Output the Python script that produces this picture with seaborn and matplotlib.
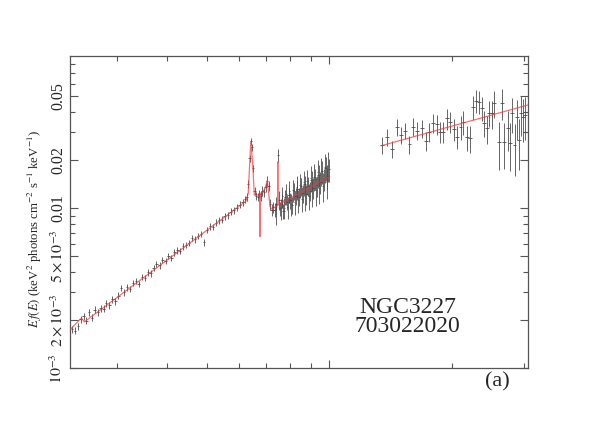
import numpy as np
import pandas as pd
import matplotlib
matplotlib.use("Agg")
import matplotlib.pyplot as plt
import seaborn as sns
from matplotlib.ticker import NullFormatter, FixedLocator

# ---------------- data (keV, keV^2 photons cm^-2 s^-1 keV^-1) ----------------
xis_energy = [2.33, 2.37, 2.41, 2.45, 2.49, 2.53, 2.57, 2.61, 2.65, 2.70,
              2.74, 2.79, 2.83, 2.88, 2.93, 2.98, 3.03, 3.08, 3.13, 3.18,
              3.24, 3.29, 3.35, 3.40, 3.46, 3.52, 3.58, 3.64, 3.70, 3.76,
              3.83, 3.89, 3.96, 4.02, 4.09, 4.16, 4.23, 4.30, 4.37, 4.45,
              4.52, 4.60, 4.68, 4.76, 4.84, 4.92, 5.00, 5.09, 5.17, 5.26,
              5.35, 5.44, 5.53, 5.63, 5.72, 5.82, 5.92, 6.02, 6.12, 6.20,
              6.26, 6.32, 6.37, 6.41, 6.45, 6.50, 6.55, 6.61, 6.67, 6.73,
              6.79, 6.85, 6.91, 6.97, 7.03, 7.09, 7.15, 7.21, 7.27,
              7.34, 7.41, 7.48, 7.56, 7.63, 7.71, 7.79, 7.86, 7.94, 8.02,
              8.10, 8.18, 8.26, 8.35, 8.43, 8.52, 8.60, 8.69, 8.78, 8.86,
              8.95, 9.04, 9.13, 9.22, 9.32, 9.41, 9.50, 9.60, 9.70, 9.79,
              9.89, 9.98]
xis_flux = [0.00176, 0.00172, 0.00183, 0.00202, 0.00212, 0.00198, 0.00225, 0.00207, 0.00232, 0.00224,
            0.00238, 0.00236, 0.00255, 0.00247, 0.00270, 0.00262, 0.00284, 0.00318, 0.00298, 0.00322,
            0.00312, 0.00340, 0.00352, 0.00335, 0.00372, 0.00366, 0.00398, 0.00392, 0.00425, 0.00448,
            0.00440, 0.00478, 0.00470, 0.00502, 0.00488, 0.00530, 0.00545, 0.00540, 0.00578, 0.00592,
            0.00610, 0.00655, 0.00640, 0.00672, 0.00690, 0.00612, 0.00735, 0.00770, 0.00765, 0.00815,
            0.00842, 0.00850, 0.00895, 0.00905, 0.00955, 0.00975, 0.01010, 0.01055, 0.01090, 0.01140,
            0.01180, 0.01420, 0.02050, 0.02620, 0.02400, 0.01780, 0.01280, 0.01200, 0.01180, 0.01230,
            0.01200, 0.01280, 0.01260, 0.01350, 0.01480, 0.01380, 0.01060, 0.00980, 0.01020,
            0.00980, 0.01070, 0.02150, 0.01000, 0.01120, 0.00960, 0.01180, 0.01090, 0.01210, 0.01120,
            0.01050, 0.01280, 0.01190, 0.01320, 0.01180, 0.01370, 0.01240, 0.01410, 0.01220, 0.01380,
            0.01290, 0.01500, 0.01340, 0.01530, 0.01390, 0.01620, 0.01460, 0.01700, 0.01520, 0.01780,
            0.01600, 0.01750]
xis_relerr = [0.05, 0.05, 0.05, 0.05, 0.05, 0.05, 0.05, 0.05, 0.05, 0.05,
              0.05, 0.05, 0.05, 0.05, 0.05, 0.05, 0.05, 0.05, 0.05, 0.05,
              0.045, 0.045, 0.045, 0.045, 0.045, 0.045, 0.045, 0.045, 0.045, 0.045,
              0.045, 0.045, 0.045, 0.045, 0.045, 0.045, 0.045, 0.045, 0.045, 0.045,
              0.045, 0.045, 0.045, 0.045, 0.045, 0.045, 0.045, 0.045, 0.045, 0.045,
              0.05, 0.05, 0.05, 0.05, 0.05, 0.05, 0.05, 0.05, 0.05, 0.05,
              0.06, 0.06, 0.05, 0.05, 0.05, 0.05, 0.06, 0.06, 0.06, 0.06,
              0.07, 0.07, 0.07, 0.07, 0.07, 0.07, 0.08, 0.08, 0.08,
              0.10, 0.10, 0.09, 0.10, 0.10, 0.11, 0.11, 0.11, 0.11, 0.12,
              0.12, 0.12, 0.12, 0.12, 0.13, 0.13, 0.13, 0.13, 0.14, 0.14,
              0.14, 0.14, 0.15, 0.15, 0.15, 0.15, 0.16, 0.16, 0.16, 0.17,
              0.17, 0.17]

# second XIS sensor (interleaved bins, 7.3-10 keV)
xis2_energy = [7.375, 7.52, 7.595, 7.67, 7.75, 7.825, 7.90, 7.98, 8.06, 8.14,
               8.22, 8.305, 8.39, 8.475, 8.56, 8.645, 8.735, 8.82, 8.905, 8.995,
               9.085, 9.175, 9.27, 9.365, 9.455, 9.55, 9.65, 9.745, 9.84, 9.935]
xis2_flux = [0.0092, 0.0113, 0.0099, 0.0119, 0.0101, 0.0123, 0.0102, 0.0128, 0.0106, 0.0130,
             0.0110, 0.0136, 0.0112, 0.0140, 0.0115, 0.0145, 0.0118, 0.0148, 0.0120, 0.0155,
             0.0125, 0.0158, 0.0130, 0.0168, 0.0133, 0.0172, 0.0138, 0.0181, 0.0145, 0.0185]
xis2_relerr = [0.14, 0.14, 0.15, 0.15, 0.15, 0.15, 0.16, 0.16, 0.16, 0.16,
               0.17, 0.17, 0.17, 0.17, 0.18, 0.18, 0.18, 0.18, 0.19, 0.19,
               0.19, 0.19, 0.20, 0.20, 0.20, 0.20, 0.21, 0.21, 0.21, 0.21]

pin_energy = [13.45, 13.88, 14.23, 14.64, 15.00, 15.37, 15.73, 16.08, 16.45, 16.87,
              17.25, 17.61, 18.00, 18.36, 18.70, 19.06, 19.43, 19.83, 20.20, 20.60,
              21.00, 21.35, 21.80, 22.20, 22.50, 22.90, 23.30, 23.70, 24.00, 24.40,
              24.70, 25.10, 25.40, 26.10, 26.50, 26.90, 27.40, 27.80, 28.10, 28.50,
              28.90, 29.20, 29.60, 29.85, 30.30]
pin_flux = [0.0249, 0.0280, 0.0235, 0.0324, 0.0287, 0.0306, 0.0252, 0.0324, 0.0306, 0.0316,
            0.0264, 0.0301, 0.0343, 0.0335, 0.0301, 0.0301, 0.0365, 0.0348, 0.0312, 0.0280,
            0.0324, 0.0348, 0.0278, 0.0274, 0.0431, 0.0470, 0.0464, 0.0422, 0.0343, 0.0316,
            0.0396, 0.0392, 0.0453, 0.0259, 0.0456, 0.0260, 0.0316, 0.0257, 0.0392, 0.0249,
            0.0371, 0.0267, 0.0392, 0.0371, 0.0383]
pin_relerr = [0.12, 0.12, 0.12, 0.12, 0.12, 0.12, 0.13, 0.13, 0.13, 0.13,
              0.14, 0.14, 0.14, 0.14, 0.15, 0.15, 0.15, 0.15, 0.16, 0.16,
              0.17, 0.17, 0.18, 0.19, 0.17, 0.16, 0.16, 0.17, 0.19, 0.20,
              0.19, 0.20, 0.19, 0.33, 0.22, 0.32, 0.28, 0.33, 0.25, 0.36,
              0.28, 0.35, 0.28, 0.30, 0.30]

model_xis_energy = [2.31, 2.45, 2.47, 2.50, 6.24, 6.32, 6.41, 6.48, 6.54, 6.63,
                    6.74, 6.75, 6.76, 6.83, 6.95, 7.04, 7.15, 7.22, 7.46, 7.47,
                    7.48, 10.0]
model_xis_flux = [0.00175, 0.00204, 0.00204, 0.00195, 0.0111, 0.0124, 0.0261, 0.0191, 0.0121, 0.0121,
                  0.0122, 0.00665, 0.0124, 0.0125, 0.0133, 0.0150, 0.0102, 0.0099, 0.0104, 0.0195,
                  0.0105, 0.0158]
model_pin_energy = [13.4, 30.7]
model_pin_flux = [0.0246, 0.0442]

ytick_values = [1e-3, 2e-3, 5e-3, 0.01, 0.02, 0.05]
ytick_labels = [r"$10^{-3}$", r"$2\times10^{-3}$", r"$5\times10^{-3}$", "0.01", "0.02", "0.05"]

# ---------------- style ----------------
sns.set_style("ticks")
plt.rcParams["font.family"] = ["Liberation Serif", "DejaVu Serif"]
plt.rcParams["mathtext.fontset"] = "stix"

fig = plt.figure(figsize=(5.98, 4.25), dpi=100)
ax = fig.add_axes([0.1176, 0.1334, 0.7648, 0.7348])

ecol = "#4a4a4a"
for e_list, f_list, r_list, hw in [(xis_energy, xis_flux, xis_relerr, 0.007),
                                   (xis2_energy, xis2_flux, xis2_relerr, 0.004),
                                   (pin_energy, pin_flux, pin_relerr, 0.011)]:
    e = np.array(e_list); f = np.array(f_list); r = np.array(r_list)
    ax.errorbar(e, f, yerr=f * r, xerr=[e * hw, e * hw], fmt="none",
                ecolor=ecol, elinewidth=0.7, capsize=0, alpha=0.85, zorder=2)

m1 = pd.DataFrame({"E": model_xis_energy, "F": model_xis_flux})
m2 = pd.DataFrame({"E": model_pin_energy, "F": model_pin_flux})
sns.lineplot(data=m1, x="E", y="F", ax=ax, color="#ff3030", lw=0.9, alpha=0.7,
             sort=False, estimator=None, zorder=3)
sns.lineplot(data=m2, x="E", y="F", ax=ax, color="#ff3030", lw=0.9, alpha=0.7,
             sort=False, estimator=None, zorder=3)

ax.set_xscale("log")
ax.set_yscale("log")
ax.set_xlim(2.31, 30.7)
ax.set_ylim(1e-3, 0.0895)

ax.xaxis.set_major_formatter(NullFormatter())
ax.xaxis.set_minor_formatter(NullFormatter())
ax.set_xlabel("")
ax.set_yticks(ytick_values)
ax.set_yticklabels(ytick_labels)
ax.yaxis.set_minor_locator(FixedLocator([3e-3, 4e-3, 6e-3, 7e-3, 8e-3, 9e-3,
                                         0.03, 0.04, 0.06, 0.07, 0.08]))
ax.yaxis.set_minor_formatter(NullFormatter())
ax.tick_params(axis="both", which="both", direction="in", top=True, right=True,
               color="#555555", width=0.8)
ax.tick_params(axis="both", which="major", length=6)
ax.tick_params(axis="both", which="minor", length=3.5)
ax.tick_params(axis="y", labelsize=11.5, labelrotation=90, pad=3)
for lab in ax.get_yticklabels():
    lab.set_va("center")
for s in ax.spines.values():
    s.set_color("#555555")
    s.set_linewidth(0.9)

ax.set_ylabel(r"$E\,f(E)$ (keV$^2$ photons cm$^{-2}$ s$^{-1}$ keV$^{-1}$)", fontsize=9.2)
ax.yaxis.set_label_coords(-0.058, 0.446)

ax.text(0.737, 0.196, "NGC3227", transform=ax.transAxes, ha="center", va="center", fontsize=17)
ax.text(0.737, 0.135, "703022020", transform=ax.transAxes, ha="center", va="center", fontsize=17)
fig.text(497 / 598, 1 - 382 / 425, "(a)", ha="center", va="center", fontsize=16)

fig.savefig("out.png", dpi=100)
